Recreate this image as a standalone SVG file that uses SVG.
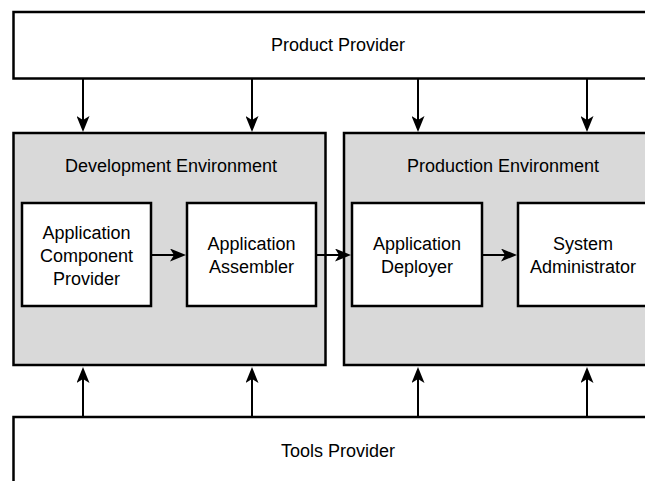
<svg xmlns="http://www.w3.org/2000/svg" width="645" height="481" viewBox="0 0 645 481">
  <style>
    .provider { fill: #ffffff; stroke: #000000; stroke-width: 2.5; }
    .env { fill: #d9d9d9; stroke: #000000; stroke-width: 2.5; }
    .role { fill: #ffffff; stroke: #000000; stroke-width: 2.5; }
    text { font-family: "Liberation Sans", Arial, Helvetica, sans-serif; font-size: 18px; fill: #000000; text-anchor: middle; }
    .flow { stroke: #000000; stroke-width: 2; fill: none; marker-end: url(#arrow); }
  </style>
  <defs>
    <marker id="arrow" viewBox="0 0 16 13" refX="12" refY="6.5" markerWidth="16" markerHeight="13" markerUnits="userSpaceOnUse" orient="auto">
      <path d="M0,0 L16,6.5 L0,13 L4,6.5 z" fill="#000000"/>
    </marker>
  </defs>

  <rect width="645" height="481" fill="#ffffff"/>

  <!-- supplier of products -->
  <g id="product-provider">
    <rect class="provider" x="13.5" y="12" width="700" height="66.5"/>
    <text x="338" y="51">Product Provider</text>
  </g>

  <!-- development side -->
  <g id="development-environment">
    <rect class="env" x="13.5" y="133" width="312" height="232"/>
    <text x="171" y="172">Development Environment</text>
  </g>

  <!-- production side -->
  <g id="production-environment">
    <rect class="env" x="344" y="133" width="320" height="232"/>
    <text x="503" y="172">Production Environment</text>
  </g>

  <g id="application-component-provider">
    <rect class="role" x="22" y="203" width="129" height="103"/>
    <text x="86.5" y="239">Application</text>
    <text x="86.5" y="262">Component</text>
    <text x="86.5" y="285">Provider</text>
  </g>

  <g id="application-assembler">
    <rect class="role" x="187" y="203" width="129" height="103"/>
    <text x="251.5" y="250">Application</text>
    <text x="251.5" y="273">Assembler</text>
  </g>

  <g id="application-deployer">
    <rect class="role" x="352" y="203" width="130" height="103"/>
    <text x="417" y="250">Application</text>
    <text x="417" y="273">Deployer</text>
  </g>

  <g id="system-administrator">
    <rect class="role" x="518" y="203" width="140" height="103"/>
    <text x="583" y="250">System</text>
    <text x="583" y="273">Administrator</text>
  </g>

  <!-- supplier of tools -->
  <g id="tools-provider">
    <rect class="provider" x="13.5" y="417" width="700" height="100"/>
    <text x="338" y="457">Tools Provider</text>
  </g>

  <g id="connectors">
    <!-- product provider down to each role -->
    <line class="flow" x1="83" y1="78.5" x2="83" y2="128"/>
    <line class="flow" x1="252" y1="78.5" x2="252" y2="128"/>
    <line class="flow" x1="418" y1="78.5" x2="418" y2="128"/>
    <line class="flow" x1="587" y1="78.5" x2="587" y2="128"/>
    <!-- role hand-offs -->
    <line class="flow" x1="151" y1="255" x2="182" y2="255"/>
    <line class="flow" x1="316" y1="255" x2="347" y2="255"/>
    <line class="flow" x1="482" y1="255" x2="513" y2="255"/>
    <!-- tools provider up to each role -->
    <line class="flow" x1="83" y1="417" x2="83" y2="371"/>
    <line class="flow" x1="252" y1="417" x2="252" y2="371"/>
    <line class="flow" x1="418" y1="417" x2="418" y2="371"/>
    <line class="flow" x1="587" y1="417" x2="587" y2="371"/>
  </g>
</svg>
